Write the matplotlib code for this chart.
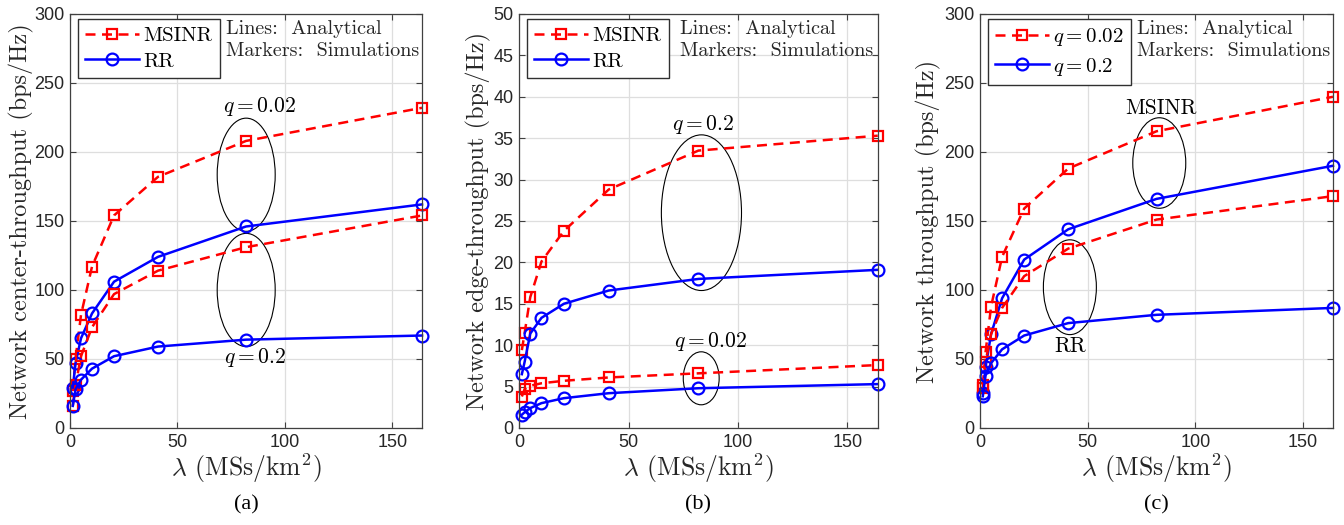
import matplotlib
matplotlib.use("Agg")
import matplotlib.pyplot as plt
from matplotlib.patches import Ellipse

plt.rcParams['mathtext.fontset'] = 'cm'

lam = [1.28, 2.56, 5.12, 10.24, 20.48, 40.96, 81.92, 163.84]

# (a) center throughput
a_msinr_q002 = [27, 50, 82, 117, 154, 182, 208, 232]
a_msinr_q02 = [16, 31, 52, 73, 97, 114, 131, 154]
a_rr_q002 = [29, 47, 65, 83, 106, 124, 146, 162]
a_rr_q02 = [16, 28, 35, 43, 52, 59, 64, 67]

# (b) edge throughput
b_msinr_q02 = [9.4, 11.5, 15.8, 20.1, 23.8, 28.8, 33.5, 35.3]
b_rr_q02 = [6.5, 8.0, 11.4, 13.3, 15.0, 16.6, 18.0, 19.1]
b_msinr_q002 = [3.8, 4.7, 5.1, 5.4, 5.7, 6.1, 6.6, 7.6]
b_rr_q002 = [1.6, 1.9, 2.4, 3.0, 3.6, 4.2, 4.8, 5.3]

# (c) total throughput
c_msinr_q002 = [31, 55, 88, 124, 159, 188, 215, 240]
c_msinr_q02 = [29, 48, 68, 87, 110, 130, 151, 168]
c_rr_q002 = [25, 44, 68, 94, 122, 144, 166, 190]
c_rr_q02 = [23, 38, 47, 57, 67, 76, 82, 87]

TXT = '#262626'
TF = 'cmr10'


def style_axes(ax, ymax, ystep):
    ax.set_xlim(0, lam[-1])
    ax.set_ylim(0, ymax)
    ax.set_xticks([0, 50, 100, 150])
    ax.set_yticks([ystep * i for i in range(int(ymax / ystep) + 1)])
    ax.grid(True, color='#dedede', linewidth=0.9)
    ax.set_axisbelow(True)
    ax.tick_params(direction='in', top=True, right=True, length=4,
                   color='#404040', labelsize=13, labelcolor=TXT, pad=4)
    for lab in ax.get_xticklabels() + ax.get_yticklabels():
        lab.set_fontfamily('Liberation Sans')
    for s in ax.spines.values():
        s.set_color('#404040')
        s.set_linewidth(0.9)
    ax.set_xlabel(r'$\lambda$ (MSs/km$^2$)', fontsize=18.5, fontfamily=TF,
                  color=TXT, labelpad=1)


def draw(ax, y, kind, label=None):
    if kind == 'msinr':
        ax.plot(lam, y, '--s', color='red', lw=1.8, ms=7, mfc='none',
                mew=1.6, dashes=(4, 2.6), label=label, clip_on=False)
    else:
        ax.plot(lam, y, '-o', color='blue', lw=1.8, ms=8.5, mfc='none',
                mew=1.6, label=label, clip_on=False)


def legend_and_note(ax, note_x):
    ax.legend(loc='upper left', bbox_to_anchor=(0.022, 0.988),
              borderaxespad=0, fancybox=False, edgecolor='#303030',
              framealpha=1, prop={'family': TF, 'size': 15},
              handlelength=2.6, handletextpad=0.2, borderpad=0.35,
              labelspacing=0.35)
    ax.text(note_x, 0.985, 'Lines:  Analytical\nMarkers:  Simulations',
            transform=ax.transAxes, ha='left', va='top', fontsize=14.5,
            fontfamily=TF, color=TXT, linespacing=1.3)


def ellipse(ax, x, y, w, h):
    ax.add_patch(Ellipse((x, y), w, h, fill=False, color='black', lw=0.8))


fig = plt.figure(figsize=(13.44, 5.25), dpi=100)
ax1 = fig.add_axes([0.0521, 0.1848, 0.2619, 0.7886])
ax2 = fig.add_axes([0.3862, 0.1848, 0.2669, 0.7886])
ax3 = fig.add_axes([0.7292, 0.1848, 0.2626, 0.7886])

# (a)
draw(ax1, a_msinr_q002, 'msinr', 'MSINR')
draw(ax1, a_rr_q002, 'rr', 'RR')
draw(ax1, a_msinr_q02, 'msinr')
draw(ax1, a_rr_q02, 'rr')
style_axes(ax1, 300, 50)
ax1.set_ylabel('Network center-throughput (bps/Hz)', fontsize=17.5,
               fontfamily=TF, color=TXT, labelpad=0)
ellipse(ax1, 82, 183.5, 27, 82)
ellipse(ax1, 82, 100, 27, 82)
ax1.text(88, 233, r'$q = 0.02$', ha='center', va='center', fontsize=15.5)
ax1.text(86, 51, r'$q = 0.2$', ha='center', va='center', fontsize=15.5)
legend_and_note(ax1, 0.443)

# (b)
draw(ax2, b_msinr_q02, 'msinr', 'MSINR')
draw(ax2, b_rr_q02, 'rr', 'RR')
draw(ax2, b_msinr_q002, 'msinr')
draw(ax2, b_rr_q002, 'rr')
style_axes(ax2, 50, 5)
ax2.set_ylabel('Network edge-throughput (bps/Hz)', fontsize=17.5,
               fontfamily=TF, color=TXT, labelpad=2)
ellipse(ax2, 83.3, 26, 36.6, 18.8)
ellipse(ax2, 83.2, 6.0, 16.4, 6.4)
ax2.text(84, 36.6, r'$q = 0.2$', ha='center', va='center', fontsize=15.5)
ax2.text(87.5, 10.5, r'$q = 0.02$', ha='center', va='center', fontsize=15.5)
legend_and_note(ax2, 0.45)

# (c)
draw(ax3, c_msinr_q002, 'msinr', r'$q = 0.02$')
draw(ax3, c_rr_q002, 'rr', r'$q = 0.2$')
draw(ax3, c_msinr_q02, 'msinr')
draw(ax3, c_rr_q02, 'rr')
style_axes(ax3, 300, 50)
ax3.set_ylabel('Network throughput (bps/Hz)', fontsize=17.5,
               fontfamily=TF, color=TXT, labelpad=2)
ellipse(ax3, 83.2, 192, 24.6, 65.6)
ellipse(ax3, 41.7, 102, 24.6, 68.7)
ax3.text(84, 232, 'MSINR', ha='center', va='center', fontsize=15.5,
         fontfamily=TF)
ax3.text(41.7, 59, 'RR', ha='center', va='center', fontsize=15.5,
         fontfamily=TF)
legend_and_note(ax3, 0.445)

for ax, cap in [(ax1, '(a)'), (ax2, '(b)'), (ax3, '(c)')]:
    pos = ax.get_position()
    fig.text(pos.x0 + pos.width / 2, 0.038, cap, ha='center', va='center',
             fontsize=16, fontfamily='Liberation Serif')

fig.savefig('out.png', dpi=100)
